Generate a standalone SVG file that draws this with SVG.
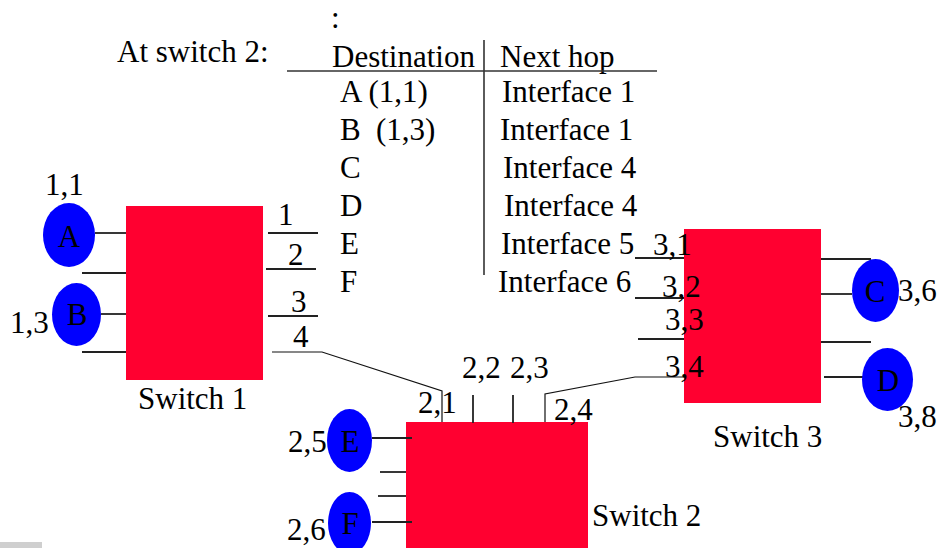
<svg xmlns="http://www.w3.org/2000/svg" width="938" height="548" viewBox="0 0 938 548">
<style>
text{font-family:"Liberation Serif","Times New Roman",serif;font-size:31px;fill:#000}
.sw{fill:#FF0030}
.host{fill:#0000FF}
.stub{stroke:#222;stroke-width:1.8;fill:none}
.wire{stroke:#111;stroke-width:1.2;fill:none}
.rule{stroke:#333;stroke-width:1.6}
.mid{text-anchor:middle}
</style>
<rect width="938" height="548" fill="#fff"/>
<g id="table">
<text x="117" y="62">At switch 2:</text>
<text x="331" y="28">:</text>
<text x="332" y="67">Destination</text>
<text x="500" y="67">Next hop</text>
<line class="rule" x1="287" y1="71" x2="657" y2="71"/>
<line class="rule" x1="484" y1="40" x2="484" y2="275"/>
<text x="340" y="102">A (1,1)</text>
<text x="502" y="102">Interface 1</text>
<text x="340" y="140">B</text><text x="376" y="140">(1,3)</text>
<text x="500" y="140">Interface 1</text>
<text x="340" y="178">C</text>
<text x="503" y="178">Interface 4</text>
<text x="340" y="216">D</text>
<text x="504" y="216">Interface 4</text>
<text x="340" y="254">E</text>
<text x="501" y="254">Interface 5</text>
<text x="340" y="292">F</text>
<text x="498" y="292">Interface 6</text>
</g>
<g id="connectors">
<polyline class="wire" points="272,352 322,352 442,391 442,423"/>
<polyline class="wire" points="684,377 635,377 545,394 545,427"/>
</g>
<g id="switch1">
<rect class="sw" x="126" y="206" width="137" height="174"/>
<line class="stub" x1="95" y1="233" x2="126" y2="233"/>
<line class="stub" x1="82" y1="273" x2="126" y2="273"/>
<line class="stub" x1="101" y1="314" x2="126" y2="314"/>
<line class="stub" x1="82" y1="352" x2="126" y2="352"/>
<line class="stub" x1="268" y1="233" x2="318" y2="233"/>
<line class="stub" x1="266" y1="269" x2="316" y2="269"/>
<line class="stub" x1="268" y1="316" x2="318" y2="316"/>
<text x="278" y="225">1</text>
<text x="288" y="265">2</text>
<text x="291" y="312">3</text>
<text x="293" y="347">4</text>
<text x="138" y="409">Switch 1</text>
</g>
<g id="hostA">
<ellipse class="host" cx="69" cy="235" rx="26" ry="32"/>
<text class="mid" x="69" y="247">A</text>
<text x="45" y="195">1,1</text>
</g>
<g id="hostB">
<ellipse class="host" cx="76.5" cy="314.5" rx="24.5" ry="31.5"/>
<text class="mid" x="77" y="325">B</text>
<text x="10" y="333">1,3</text>
</g>
<g id="switch2">
<rect class="sw" x="406" y="422" width="182" height="126"/>
<line class="stub" x1="473" y1="395" x2="473" y2="423"/>
<line class="stub" x1="513" y1="395" x2="513" y2="423"/>
<line class="stub" x1="372" y1="438" x2="412" y2="438"/>
<line class="stub" x1="380" y1="472" x2="406" y2="472"/>
<line class="stub" x1="378" y1="496" x2="406" y2="496"/>
<line class="stub" x1="372" y1="522" x2="412" y2="522"/>
<text x="418" y="413">2,1</text>
<text x="462" y="378">2,2</text>
<text x="510" y="378">2,3</text>
<text x="554" y="420">2,4</text>
<text x="592" y="526">Switch 2</text>
</g>
<g id="hostE">
<ellipse class="host" cx="349.5" cy="440.5" rx="22.5" ry="31.5"/>
<text class="mid" x="350" y="452">E</text>
<text x="288" y="452">2,5</text>
</g>
<g id="hostF">
<ellipse class="host" cx="349.5" cy="523" rx="21.5" ry="31"/>
<text class="mid" x="350" y="534">F</text>
<text x="287" y="540">2,6</text>
</g>
<g id="switch3">
<rect class="sw" x="684" y="229" width="137" height="174"/>
<line class="stub" x1="635" y1="258" x2="684" y2="258"/>
<line class="stub" x1="635" y1="298" x2="684" y2="298"/>
<line class="stub" x1="638" y1="339" x2="684" y2="339"/>
<line class="stub" x1="821" y1="259" x2="871" y2="259"/>
<line class="stub" x1="821" y1="294" x2="852" y2="294"/>
<line class="stub" x1="821" y1="342" x2="871" y2="342"/>
<line class="stub" x1="824" y1="377" x2="865" y2="377"/>
<text x="653" y="255">3,1</text>
<text x="662" y="297">3,2</text>
<text x="665" y="330">3,3</text>
<text x="665" y="377">3,4</text>
<text x="713" y="447">Switch 3</text>
</g>
<g id="hostC">
<ellipse class="host" cx="875.5" cy="290.5" rx="23.5" ry="31.5"/>
<text class="mid" x="875" y="302">C</text>
<text x="898" y="301">3,6</text>
</g>
<g id="hostD">
<ellipse class="host" cx="887.5" cy="379.5" rx="25.5" ry="31.5"/>
<text class="mid" x="888" y="391">D</text>
<text x="898" y="427">3,8</text>
</g>
<rect x="0" y="542" width="42" height="6" fill="#cfcfcf"/>
</svg>
